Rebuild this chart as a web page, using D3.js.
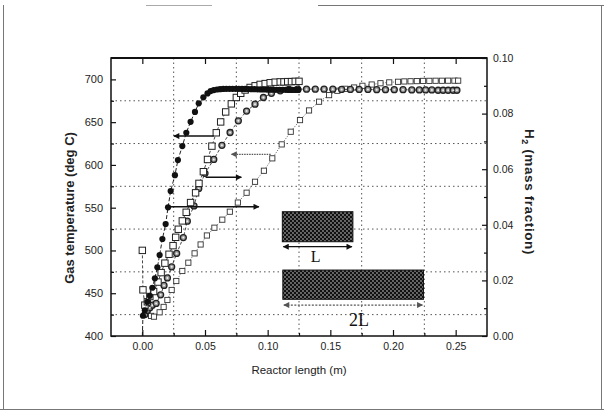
<!DOCTYPE html>
<html><head><meta charset="utf-8">
<script src="https://cdn.jsdelivr.net/npm/d3@7"></script>
<style>body{margin:0;background:#fff}svg{display:block}</style>
</head><body><svg id="c" width="604" height="412"></svg>
<script>
// ---------- tick labels ----------
const xTicks = [0, 0.05, 0.10, 0.15, 0.20, 0.25];
const xTickLabels = ["0.00", "0.05", "0.10", "0.15", "0.20", "0.25"];
const xMinor = [0.025, 0.075, 0.125, 0.175, 0.225];
const yLeftTicks = [400, 450, 500, 550, 600, 650, 700];
const yLeftMinor = [425, 475, 525, 575, 625, 675];
const yRightTicks = [0, 0.02, 0.04, 0.06, 0.08, 0.10];
const yRightTickLabels = ["0.00", "0.02", "0.04", "0.06", "0.08", "0.10"];
const yRightMinor = [0.01, 0.03, 0.05, 0.07, 0.09];

// ---------- series: reactor length L, gas temperature (filled circles) ----------
const tempL_x = [0.000,0.0005,0.002,0.004,0.006,0.008,0.010,0.012,0.0138,0.016,0.0186,0.0205,0.0226,0.026,0.0284,0.0319,0.0351,0.0385,0.042,0.045,0.0487,0.052,0.0545,0.057,0.0595,0.062,0.0645,0.067,0.0695,0.072,0.0745,0.077,0.0795,0.082,0.0845,0.087,0.0895,0.092,0.0945,0.097,0.0995,0.102,0.1045,0.107,0.1095,0.112,0.1145,0.117,0.1195,0.122,0.1245];
const tempL   = [400,423.7,430,440,447,456.4,467.4,480.3,494.7,513.4,530.9,550.4,569.5,588,605.7,622,637.6,650.4,662,672,679,683.6,686.3,687.5,688.2,688.6,688.8,689,689,689,689,689,688.9,688.8,688.7,688.6,688.5,688.4,688.3,688.2,688.1,688,688,687.9,687.9,687.8,687.8,687.8,687.7,687.7,687.7];

// ---------- series: reactor length L, H2 mass fraction (large open squares) ----------
const h2L_x = [0.000,0.0005,0.002,0.004,0.006,0.009,0.0125,0.015,0.018,0.0213,0.0245,0.0266,0.0287,0.0319,0.035,0.0385,0.0425,0.0452,0.0487,0.052,0.0555,0.059,0.0625,0.0665,0.071,0.075,0.0785,0.082,0.086,0.090,0.094,0.098,0.102,0.106,0.110,0.113,0.116,0.119,0.122,0.125];
const h2L   = [0.0308,0.0166,0.0111,0.0123,0.0142,0.0160,0.0194,0.0228,0.0262,0.0294,0.0325,0.0355,0.0384,0.0414,0.0445,0.0480,0.0515,0.0549,0.0591,0.0635,0.0683,0.0731,0.0770,0.0806,0.0835,0.0858,0.0873,0.0885,0.0894,0.0900,0.0905,0.0908,0.0911,0.0913,0.0914,0.0914,0.0915,0.0915,0.0916,0.0916];

// ---------- series: reactor length 2L, gas temperature (small open squares) ----------
const temp2L_x = [0.004,0.007,0.0093,0.0138,0.017,0.020,0.0234,0.0271,0.0319,0.0367,0.0417,0.0465,0.0515,0.0575,0.0638,0.0698,0.0762,0.0832,0.0899,0.097,0.1037,0.1112,0.1184,0.1258,0.133,0.141,0.149,0.1556,0.162,0.169,0.1756,0.183,0.190,0.197,0.204,0.209,0.214,0.219,0.224,0.229,0.234,0.239,0.244,0.249,0.252];
const temp2L   = [426,423.5,422.6,427.7,434,442.1,453.8,464.3,476,485.7,496.6,507,517.5,526.6,536,545.3,556,567.5,580.3,593.2,607.7,624,638.8,652.4,663.7,673.9,681.6,686.7,689,690.5,692.5,694,695.5,696.5,697.2,697.6,697.8,698,698.2,698.3,698.4,698.4,698.5,698.5,698.5];

// ---------- series: reactor length 2L, H2 mass fraction (dotted circles) ----------
const h2_2L_x = [0.002,0.004,0.006,0.008,0.011,0.0146,0.0173,0.020,0.0234,0.0274,0.0327,0.0359,0.0412,0.045,0.050,0.057,0.0635,0.070,0.0766,0.0832,0.0899,0.0966,0.103,0.110,0.117,0.124,0.131,0.138,0.145,0.152,0.159,0.166,0.173,0.180,0.187,0.194,0.201,0.208,0.215,0.221,0.226,0.231,0.236,0.240,0.244,0.248,0.251];
const h2_2L   = [0.0077,0.0092,0.0102,0.0111,0.0117,0.0148,0.0182,0.0209,0.0249,0.0297,0.0354,0.0413,0.0468,0.0531,0.0585,0.0635,0.0686,0.0732,0.0774,0.0809,0.0834,0.0858,0.0873,0.0882,0.0887,0.0888,0.0888,0.0888,0.0888,0.0888,0.0887,0.0887,0.0887,0.0887,0.0886,0.0886,0.0886,0.0886,0.0885,0.0885,0.0885,0.0885,0.0884,0.0884,0.0884,0.0884,0.0884];

// ---------- annotations (data coordinates on the temperature axis) ----------
const arrowsX1 = [0.057, 0.1024, 0.0505, 0.0204];
const arrowsX2 = [0.0252, 0.071, 0.079, 0.093];
const arrowsT  = [633.7, 612.4, 585.5, 551];
const arrowsDotted = [false, true, false, false];
const boxLabels = ["L", "2L"];
const boxX1 = [0.1117, 0.1121];
const boxX2 = [0.168, 0.2243];
const boxT1 = [510.2, 442.9];
const boxT2 = [545.3, 477.1];
const spanT = [504.4, 436.2];
const labelX = [0.1383, 0.1729];
const labelT = [492.6, 418.7];

// ---------- drawing ----------
const svg = d3.select("#c");
const L = 111, R = 487, T = 58, B = 336;
const x = d3.scaleLinear().domain([-0.025, 0.275]).range([L, R]);
const yL = d3.scaleLinear().domain([400, 725]).range([B, T]);
const yR = d3.scaleLinear().domain([0, 0.1]).range([B, T]);
const FONT = "'Liberation Sans', Arial, Helvetica, sans-serif";

// outer page frame (scan border)
const frame = svg.append("g").attr("stroke", "#777").attr("stroke-width", 1).attr("fill", "none");
frame.append("line").attr("x1", 3.5).attr("x2", 3.5).attr("y1", 5).attr("y2", 410);
frame.append("line").attr("x1", 318).attr("x2", 604).attr("y1", 5.5).attr("y2", 5.5);
frame.append("line").attr("x1", 146).attr("x2", 212).attr("y1", 5.5).attr("y2", 5.5).attr("stroke", "#aaa");
frame.append("line").attr("x1", 0).attr("x2", 604).attr("y1", 409.5).attr("y2", 409.5);
frame.append("line").attr("x1", 601.5).attr("x2", 601.5).attr("y1", 5).attr("y2", 410);

const defs = svg.append("defs");
const pat = defs.append("pattern").attr("id", "hatch").attr("patternUnits", "userSpaceOnUse")
  .attr("width", 4).attr("height", 4);
pat.append("rect").attr("width", 4).attr("height", 4).attr("fill", "#111");
pat.append("circle").attr("cx", 1).attr("cy", 1).attr("r", 0.65).attr("fill", "#fff");
pat.append("circle").attr("cx", 3).attr("cy", 3).attr("r", 0.65).attr("fill", "#fff");
defs.append("clipPath").attr("id", "plot").append("rect")
  .attr("x", L).attr("y", T).attr("width", R - L).attr("height", B - T);
function head(id, color) {
  defs.append("marker").attr("id", id).attr("viewBox", "0 0 10 10")
    .attr("refX", 9).attr("refY", 5).attr("markerWidth", 8).attr("markerHeight", 6)
    .attr("markerUnits", "userSpaceOnUse").attr("orient", "auto-start-reverse")
    .append("path").attr("d", "M0,0 L10,5 L0,10 Z").attr("fill", color);
}
head("ahBlack", "#111");
head("ahGray", "#555");

// grid (dotted, at minor ticks)
const grid = svg.append("g").attr("stroke", "#555").attr("stroke-width", 1)
  .attr("stroke-dasharray", "1.5,3");
grid.selectAll(".gx").data(xMinor).join("line")
  .attr("x1", d => x(d)).attr("x2", d => x(d)).attr("y1", T).attr("y2", B);
grid.selectAll(".gy").data(yLeftMinor).join("line")
  .attr("x1", L).attr("x2", R).attr("y1", d => yL(d)).attr("y2", d => yL(d));

// boxes and length spans
const ann = svg.append("g");
boxLabels.forEach((lab, i) => {
  ann.append("rect").attr("x", x(boxX1[i])).attr("y", yL(boxT2[i]))
    .attr("width", x(boxX2[i]) - x(boxX1[i])).attr("height", yL(boxT1[i]) - yL(boxT2[i]))
    .attr("fill", "url(#hatch)").attr("stroke", "#111").attr("stroke-width", 1);
  ann.append("line").attr("x1", x(boxX1[i]) + 1).attr("x2", x(boxX2[i]) - 1)
    .attr("y1", yL(spanT[i])).attr("y2", yL(spanT[i]))
    .attr("stroke", i === 0 ? "#111" : "#555").attr("stroke-width", 1.2)
    .attr("stroke-dasharray", i === 0 ? null : "2,1.5")
    .attr("marker-start", i === 0 ? "url(#ahBlack)" : "url(#ahGray)")
    .attr("marker-end", i === 0 ? "url(#ahBlack)" : "url(#ahGray)");
  ann.append("text").attr("x", x(labelX[i])).attr("y", yL(labelT[i]))
    .attr("text-anchor", "middle").attr("dominant-baseline", "central")
    .attr("font-family", "'Liberation Serif', 'Times New Roman', serif")
    .attr("font-size", i === 0 ? 16 : 18).attr("fill", "#111").text(lab);
});

// series
const plot = svg.append("g").attr("clip-path", "url(#plot)");
function series(xs, ys, ysc, lineStyle, markerFn) {
  const pts = xs.map((d, i) => [x(d), ysc(ys[i])]);
  plot.append("path").attr("d", d3.line()(pts)).attr("fill", "none")
    .attr("stroke", lineStyle.color).attr("stroke-width", lineStyle.width)
    .attr("stroke-dasharray", lineStyle.dash);
  markerFn(plot.append("g"), pts);
}
// 2L temperature: small squares, dotted line
series(temp2L_x, temp2L, yL, {color: "#444", width: 0.9, dash: "1,1.5"}, (g, pts) => {
  g.selectAll("rect").data(pts).join("rect")
    .attr("x", d => d[0] - 2.6).attr("y", d => d[1] - 2.6).attr("width", 5.2).attr("height", 5.2)
    .attr("fill", "#fff").attr("stroke", "#333").attr("stroke-width", 0.9);
});
// 2L H2: dotted circles
series(h2_2L_x, h2_2L, yR, {color: "#333", width: 0.9, dash: "3,2"}, (g, pts) => {
  g.selectAll("circle.o").data(pts).join("circle").attr("class", "o")
    .attr("cx", d => d[0]).attr("cy", d => d[1]).attr("r", 3)
    .attr("fill", "#999").attr("stroke", "#222").attr("stroke-width", 1.3);
  g.selectAll("circle.i").data(pts).join("circle").attr("class", "i")
    .attr("cx", d => d[0]).attr("cy", d => d[1]).attr("r", 1).attr("fill", "#eee");
});
// L H2: large squares, dashed line
series(h2L_x, h2L, yR, {color: "#333", width: 0.9, dash: "3,2"}, (g, pts) => {
  g.selectAll("rect").data(pts).join("rect")
    .attr("x", d => d[0] - 3.2).attr("y", d => d[1] - 3.2).attr("width", 6.4).attr("height", 6.4)
    .attr("fill", "#fff").attr("stroke", "#222").attr("stroke-width", 1);
});
// L temperature: filled circles, dashed line
series(tempL_x, tempL, yL, {color: "#222", width: 1, dash: "4,2"}, (g, pts) => {
  g.selectAll("circle").data(pts.filter((d, i) => tempL[i] > 400)).join("circle")
    .attr("cx", d => d[0]).attr("cy", d => d[1]).attr("r", 3.1).attr("fill", "#111");
});

// arrows
arrowsT.forEach((t, i) => {
  svg.append("line").attr("x1", x(arrowsX1[i])).attr("x2", x(arrowsX2[i]))
    .attr("y1", yL(t)).attr("y2", yL(t))
    .attr("stroke", arrowsDotted[i] ? "#555" : "#111")
    .attr("stroke-width", arrowsDotted[i] ? 1.3 : 1.5)
    .attr("stroke-dasharray", arrowsDotted[i] ? "1.5,1" : null)
    .attr("marker-end", arrowsDotted[i] ? "url(#ahGray)" : "url(#ahBlack)");
});

// axes
const ax = svg.append("g").attr("font-family", FONT);
function styleAxis(g) {
  g.select(".domain").remove();
  g.selectAll(".tick line").attr("stroke", "#111").attr("stroke-width", 1.2);
  g.selectAll(".tick text").attr("fill", "#222");
}
ax.append("g").attr("transform", `translate(0,${B})`)
  .call(d3.axisBottom(x).tickValues(xTicks).tickFormat((d, i) => xTickLabels[i])
    .tickSizeInner(-6).tickSizeOuter(0).tickPadding(7))
  .call(styleAxis).call(g => g.selectAll("text").attr("font-size", 10.5));
ax.append("g").attr("transform", `translate(0,${B})`)
  .call(d3.axisBottom(x).tickValues(xMinor).tickFormat("").tickSizeInner(-3).tickSizeOuter(0))
  .call(styleAxis);
ax.append("g").attr("transform", `translate(0,${T})`)
  .call(d3.axisTop(x).tickValues(xTicks).tickFormat("").tickSizeInner(-6).tickSizeOuter(0))
  .call(styleAxis);
ax.append("g").attr("transform", `translate(${L},0)`)
  .call(d3.axisLeft(yL).tickValues(yLeftTicks).tickFormat(d3.format("d"))
    .tickSizeInner(-5).tickSizeOuter(0).tickPadding(8))
  .call(styleAxis).call(g => g.selectAll("text").attr("font-size", 11));
ax.append("g").attr("transform", `translate(${L},0)`)
  .call(d3.axisLeft(yL).tickValues(yLeftMinor).tickFormat("").tickSizeInner(-3).tickSizeOuter(0))
  .call(styleAxis);
ax.append("g").attr("transform", `translate(${R},0)`)
  .call(d3.axisRight(yR).tickValues(yRightTicks).tickFormat((d, i) => yRightTickLabels[i])
    .tickSizeInner(-5).tickSizeOuter(0).tickPadding(6))
  .call(styleAxis).call(g => g.selectAll("text").attr("font-size", 10.5));
ax.append("g").attr("transform", `translate(${R},0)`)
  .call(d3.axisRight(yR).tickValues(yRightMinor).tickFormat("").tickSizeInner(-3).tickSizeOuter(0))
  .call(styleAxis);

// frame
svg.append("rect").attr("x", L).attr("y", T).attr("width", R - L).attr("height", B - T)
  .attr("fill", "none").attr("stroke", "#111").attr("stroke-width", 1.5);
svg.append("line").attr("x1", L).attr("x2", R).attr("y1", T).attr("y2", T)
  .attr("stroke", "#111").attr("stroke-width", 2);

// titles
svg.append("text").attr("x", (x(0) + x(0.25)) / 2).attr("y", 374)
  .attr("text-anchor", "middle").attr("font-family", FONT).attr("font-size", 11.5)
  .attr("fill", "#222").text("Reactor length (m)");
svg.append("text").attr("transform", "translate(74,208) rotate(-90)")
  .attr("text-anchor", "middle").attr("font-family", FONT).attr("font-size", 13)
  .attr("font-weight", "bold").attr("fill", "#222").text("Gas temperature (deg C)");
const rt = svg.append("text").attr("transform", "translate(525,192) rotate(90)")
  .attr("text-anchor", "middle").attr("font-family", FONT).attr("font-size", 13.5)
  .attr("letter-spacing", 0.6).attr("font-weight", "bold").attr("fill", "#222");
rt.append("tspan").text("H");
rt.append("tspan").attr("font-size", 9).attr("dy", 3).text("2");
rt.append("tspan").attr("dy", -3).text(" (mass fraction)");
</script></body></html>
